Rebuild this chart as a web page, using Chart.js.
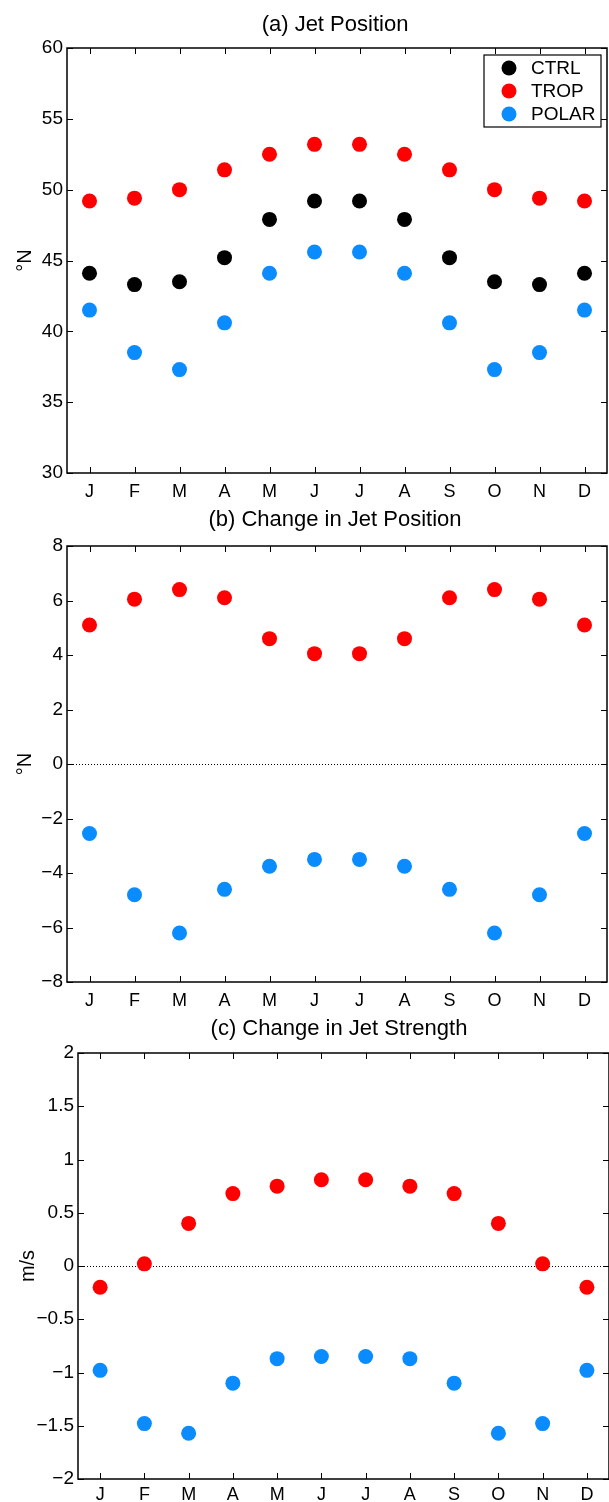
<!DOCTYPE html>
<html><head><meta charset="utf-8">
<script src="https://cdn.jsdelivr.net/npm/chart.js@4"></script>
<style>
body{margin:0;background:#fff;width:609px;height:1502px;overflow:hidden;position:relative}
canvas{position:absolute;left:0}
</style></head><body>
<canvas id="ca" width="609" height="503" style="top:0"></canvas>
<canvas id="cb" width="609" height="509" style="top:503px"></canvas>
<canvas id="cc" width="609" height="490" style="top:1012px"></canvas>
<script>
const months = ['J','F','M','A','M','J','J','A','S','O','N','D'];
const seriesNames = ['CTRL','TROP','POLAR'];
const seriesColors = ['#000000','#ff0000','#0a8cff'];

// (a) Jet position (°N)
const ctrlPos  = [44.1,43.3,43.5,45.2,47.9,49.2,49.2,47.9,45.2,43.5,43.3,44.1];
const tropPos  = [49.2,49.4,50.0,51.4,52.5,53.2,53.2,52.5,51.4,50.0,49.4,49.2];
const polarPos = [41.5,38.5,37.3,40.6,44.1,45.6,45.6,44.1,40.6,37.3,38.5,41.5];
// (b) Change in jet position (°N)
const tropDPos  = [5.1,6.05,6.4,6.1,4.6,4.05,4.05,4.6,6.1,6.4,6.05,5.1];
const polarDPos = [-2.55,-4.8,-6.2,-4.6,-3.75,-3.5,-3.5,-3.75,-4.6,-6.2,-4.8,-2.55];
// (c) Change in jet strength (m/s)
const tropDStr  = [-0.2,0.02,0.4,0.68,0.75,0.81,0.81,0.75,0.68,0.4,0.02,-0.2];
const polarDStr = [-0.98,-1.48,-1.57,-1.1,-0.87,-0.85,-0.85,-0.87,-1.1,-1.57,-1.48,-0.98];

const yTicksA = [30,35,40,45,50,55,60];
const yTicksB = [-8,-6,-4,-2,0,2,4,6,8];
const yTicksC = [-2,-1.5,-1,-0.5,0,0.5,1,1.5,2];

const FONT = '"Liberation Sans", Arial, Helvetica, sans-serif';

const decorPlugin = {
  id: 'decor',
  beforeDatasetsDraw(chart, args, o) {
    const ctx = chart.ctx, ca = chart.chartArea, y = chart.scales.y;
    if (o.zeroLine) {
      const py = y.getPixelForValue(0);
      ctx.save();
      ctx.strokeStyle = '#000'; ctx.lineWidth = 1; ctx.setLineDash([1,2]);
      ctx.beginPath(); ctx.moveTo(ca.left, Math.round(py)+0.5); ctx.lineTo(ca.right, Math.round(py)+0.5); ctx.stroke();
      ctx.restore();
    }
  },
  afterDraw(chart, args, o) {
    const ctx = chart.ctx, ca = chart.chartArea, x = chart.scales.x, y = chart.scales.y;
    ctx.save();
    ctx.strokeStyle = '#000'; ctx.lineWidth = 1.5;
    ctx.strokeRect(ca.left, ca.top, ca.right-ca.left, ca.bottom-ca.top);
    ctx.lineWidth = 1;
    const L = 6;
    ctx.beginPath();
    x.ticks.forEach((t,i) => {
      const px = Math.round(x.getPixelForTick(i))+0.5;
      ctx.moveTo(px, ca.bottom); ctx.lineTo(px, ca.bottom-L);
      ctx.moveTo(px, ca.top); ctx.lineTo(px, ca.top+L);
    });
    y.ticks.forEach(t => {
      const py = Math.round(y.getPixelForValue(t.value))+0.5;
      ctx.moveTo(ca.left, py); ctx.lineTo(ca.left+L, py);
      ctx.moveTo(ca.right, py); ctx.lineTo(ca.right-L, py);
    });
    ctx.stroke();
    // title
    ctx.fillStyle = '#000';
    ctx.font = '22px ' + FONT;
    ctx.textAlign = 'center'; ctx.textBaseline = 'middle';
    ctx.fillText(o.title, o.titleX, o.titleY);
    // y title
    ctx.save();
    ctx.translate(o.yTitleX, (ca.top+ca.bottom)/2);
    ctx.rotate(-Math.PI/2);
    ctx.font = '20px ' + FONT;
    ctx.fillText(o.yTitle, 0, 0);
    ctx.restore();
    // legend
    if (o.legend) {
      const lg = o.legend;
      ctx.fillStyle = '#fff';
      ctx.fillRect(lg.x, lg.y, lg.w, lg.h);
      ctx.lineWidth = 1.2;
      ctx.strokeRect(lg.x, lg.y, lg.w, lg.h);
      ctx.font = '19px ' + FONT;
      ctx.textAlign = 'left';
      chart.data.datasets.forEach((ds, i) => {
        const cy = lg.y + 13 + i*23;
        ctx.fillStyle = ds.backgroundColor;
        ctx.beginPath(); ctx.arc(lg.x+25, cy, 7.5, 0, Math.PI*2); ctx.fill();
        ctx.fillStyle = '#000';
        ctx.fillText(ds.label, lg.x+47, cy+1);
      });
    }
    ctx.restore();
  }
};

function fmt(v) {
  return String(v).replace('-', '\u2212');
}

function makeChart(id, datasets, yTicks, opts) {
  return new Chart(document.getElementById(id), {
    type: 'line',
    data: {
      labels: months,
      datasets: datasets.map(d => ({
        label: d.label, data: d.data,
        backgroundColor: d.color, borderColor: d.color,
        showLine: false, pointRadius: 7.5, pointHoverRadius: 7.5, pointBorderWidth: 0,
        pointStyle: 'circle'
      }))
    },
    options: {
      responsive: false, animation: false, devicePixelRatio: 1,
      layout: { autoPadding: false, padding: { top: opts.padTop, right: opts.padRight, left: 0, bottom: 0 } },
      plugins: { legend: { display: false }, tooltip: { enabled: false }, title: { display: false },
        decor: opts.decor },
      scales: {
        x: {
          offset: true,
          grid: { display: false, drawTicks: false },
          border: { display: false },
          ticks: { color: '#000', font: { family: FONT, size: 18 }, padding: opts.xPad, maxRotation: 0, autoSkip: false },
          afterFit(s) { s.height = opts.xH; s.paddingLeft = 0; s.paddingRight = 0; }
        },
        y: {
          min: yTicks[0], max: yTicks[yTicks.length-1],
          afterBuildTicks(s) { s.ticks = yTicks.map(v => ({ value: v })); },
          grid: { display: false, drawTicks: false },
          border: { display: false },
          ticks: { color: '#000', font: { family: FONT, size: 19 }, padding: 4, callback: v => fmt(v) },
          afterFit(s) { s.width = opts.yW; }
        }
      }
    },
    plugins: [decorPlugin]
  });
}

makeChart('ca', [
  { label: seriesNames[0], data: ctrlPos, color: seriesColors[0] },
  { label: seriesNames[1], data: tropPos, color: seriesColors[1] },
  { label: seriesNames[2], data: polarPos, color: seriesColors[2] }
], yTicksA, { padTop: 48, padRight: 2, xH: 30, xPad: 8, yW: 67,
  decor: { title: '(a) Jet Position', titleX: 335, titleY: 25, yTitle: '\u00B0N', yTitleX: 25,
    legend: { x: 484, y: 55, w: 117, h: 72 } } });

makeChart('cb', [
  { label: seriesNames[1], data: tropDPos, color: seriesColors[1] },
  { label: seriesNames[2], data: polarDPos, color: seriesColors[2] }
], yTicksB, { padTop: 43, padRight: 2, xH: 30, xPad: 8, yW: 67,
  decor: { title: '(b) Change in Jet Position', titleX: 335, titleY: 17, yTitle: '\u00B0N', yTitleX: 25, zeroLine: true } });

makeChart('cc', [
  { label: seriesNames[1], data: tropDStr, color: seriesColors[1] },
  { label: seriesNames[2], data: polarDStr, color: seriesColors[2] }
], yTicksC, { padTop: 41, padRight: 0, xH: 23, xPad: 5, yW: 78,
  decor: { title: '(c) Change in Jet Strength', titleX: 339, titleY: 17, yTitle: 'm/s', yTitleX: 28, zeroLine: true } });
</script>
</body></html>
